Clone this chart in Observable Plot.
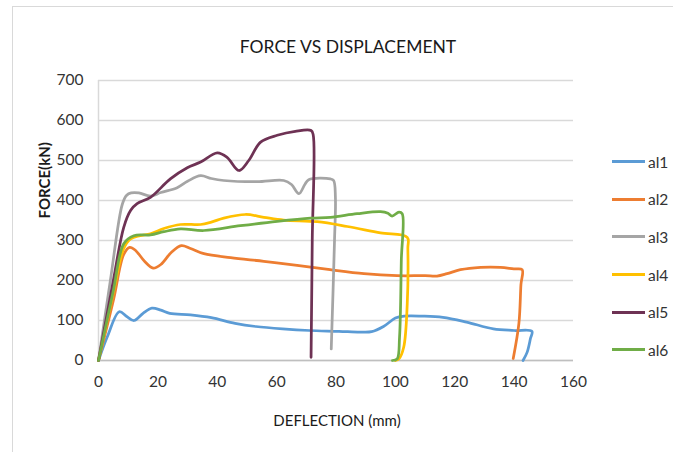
<!DOCTYPE html>
<html><head><meta charset="utf-8">
<script src="https://cdn.jsdelivr.net/npm/d3@7"></script>
<script src="https://cdn.jsdelivr.net/npm/@observablehq/plot@0.6"></script>
<style>
body{margin:0;background:#fff;}
#wrap{position:relative;width:673px;height:452px;overflow:hidden;font-family:Lato,"Liberation Sans",sans-serif;}
#frame{position:absolute;left:12px;top:6px;width:720px;height:520px;border:1.5px solid #d9d9d9;box-sizing:border-box;}
#chart{position:absolute;left:0;top:0;}
#legend{position:absolute;left:612px;top:143px;}
.item{display:flex;align-items:center;height:37.6px;}
.sw{width:33px;height:3px;margin-right:3px;}
.lb{font-size:15.5px;color:#333;}
</style></head>
<body><div id="wrap"><div id="frame"></div><div id="chart"></div><div id="legend"></div></div>
<script>
const title = "FORCE VS DISPLACEMENT";
const xLabel = "DEFLECTION (mm)";
const yLabel = "FORCE(kN)";
const xTicks = [0,20,40,60,80,100,120,140,160];
const yTicks = [0,100,200,300,400,500,600,700];
const seriesNames = ["al1","al2","al3","al4","al5","al6"];
const seriesColors = ["#5B9BD5","#ED7D31","#A5A5A5","#FFC000","#6E3254","#70AD47"];

const al1 = [[0,0],[3,60],[7,122],[9.5,110],[12,100],[15,118],[18,131],[21,126],[24,118],[31,114],[38,107],[46,93],[53,85],[62,79],[71,75],[81,73],[88,71],[92,72],[96,85],[100,106],[103,111],[109,111],[116,108],[124,96],[133,79],[140,75],[146,73],[145.5,55],[144.4,21],[143,0]];
const al2 = [[0,0],[5,150],[8.5,265],[10.5,283],[12.5,275],[15.5,248],[18.4,231],[21,240],[24.5,270],[27.9,287],[31,280],[35.5,267],[44.5,257],[55.7,248],[66.9,238],[78,227],[89.4,217],[100.6,212],[110,212],[114,211],[117.4,217],[121.9,227],[128.7,233],[135.4,233],[139.9,229],[142.7,227],[142.3,190],[141.6,92],[139.7,5]];
const al3 = [[0,0],[4,200],[8,390],[9.5,413],[11,419],[13.6,419],[17.5,411],[21,420],[26.5,432],[30,448],[34.4,462],[38,455],[42.2,450],[53.4,447],[62.4,450],[65,440],[67.5,417],[69.5,440],[70.8,452],[78.1,454],[79.2,450],[79.8,408],[79.5,300],[78.4,29]];
const al4 = [[0,0],[5,170],[8.5,280],[10.8,304],[14,312],[17.5,317],[22,330],[27.6,340],[34.4,340],[38,346],[42.2,356],[49.5,365],[55.7,358],[62.4,351],[73.7,347],[83.8,335],[95,319],[104,308],[104.2,280],[104,142],[102.8,33],[101.2,4],[100,0]];
const al5 = [[0,0],[5,200],[8.5,333],[10.8,375],[13,392],[17.5,408],[24.2,454],[29.9,482],[34.4,496],[40,519],[43.3,508],[47.3,475],[50.6,500],[54.6,546],[60.2,563],[66.3,573],[71.6,575],[72.3,565],[72,300],[71.6,8]];
const al6 = [[0,0],[5,175],[8.5,292],[11.9,312],[17.5,314],[22,322],[27.6,329],[35.5,325],[47.8,337],[60.2,348],[71.4,356],[78.1,358],[87.1,367],[95,372],[97.5,368],[98.9,361],[101.2,371],[102.3,367],[102,250],[101.4,58],[100.6,4],[99,0]];

const seriesData = [al1,al2,al3,al4,al5,al6];
const rows = seriesData.flatMap((pts,i)=>pts.map(([x,y])=>({name:seriesNames[i],x,y})));

const chart = Plot.plot({
  width:673, height:452,
  marginLeft:98, marginRight:100, marginTop:80, marginBottom:92,
  x:{domain:[0,160]},
  y:{domain:[0,700]},
  color:{domain:seriesNames, range:seriesColors},
  style:{fontFamily:"Lato, 'Liberation Sans', sans-serif", fontSize:"15.5px", color:"#333", background:"transparent", overflow:"visible"},
  marks:[
    Plot.gridY(yTicks,{stroke:"#d9d9d9",strokeOpacity:1,strokeWidth:1.5}),
    Plot.ruleX([0],{stroke:"#d9d9d9",strokeWidth:1.5}),
    Plot.ruleY([0],{stroke:"#bfbfbf",strokeWidth:1.5}),
    Plot.axisX(xTicks,{tickSize:0,tickPadding:15,label:null,fontSize:15.5,fill:"#333"}),
    Plot.axisY(yTicks,{tickSize:0,tickPadding:15,label:null,fontSize:15.5,fill:"#333"}),
    Plot.line(rows,{x:"x",y:"y",z:"name",stroke:"name",curve:"catmull-rom",strokeWidth:2.75}),
    Plot.text([title],{frameAnchor:"top",dy:-40,dx:12,fontSize:17.5,fill:"#1a1a1a"}),
    Plot.text([xLabel],{frameAnchor:"bottom",dy:65,dx:1,fontSize:15,fill:"#1a1a1a"}),
    Plot.text([yLabel],{frameAnchor:"left",dx:-53,dy:-2,rotate:-90,fontSize:15,fontWeight:"bold",fill:"#1a1a1a"})
  ]
});
document.getElementById("chart").appendChild(chart);

const legend = document.getElementById("legend");
seriesNames.forEach((n,i)=>{
  const it = document.createElement("div"); it.className="item";
  const sw = document.createElement("div"); sw.className="sw"; sw.style.background=seriesColors[i];
  const lb = document.createElement("span"); lb.className="lb"; lb.textContent=n;
  it.appendChild(sw); it.appendChild(lb); legend.appendChild(it);
});
</script></body></html>
